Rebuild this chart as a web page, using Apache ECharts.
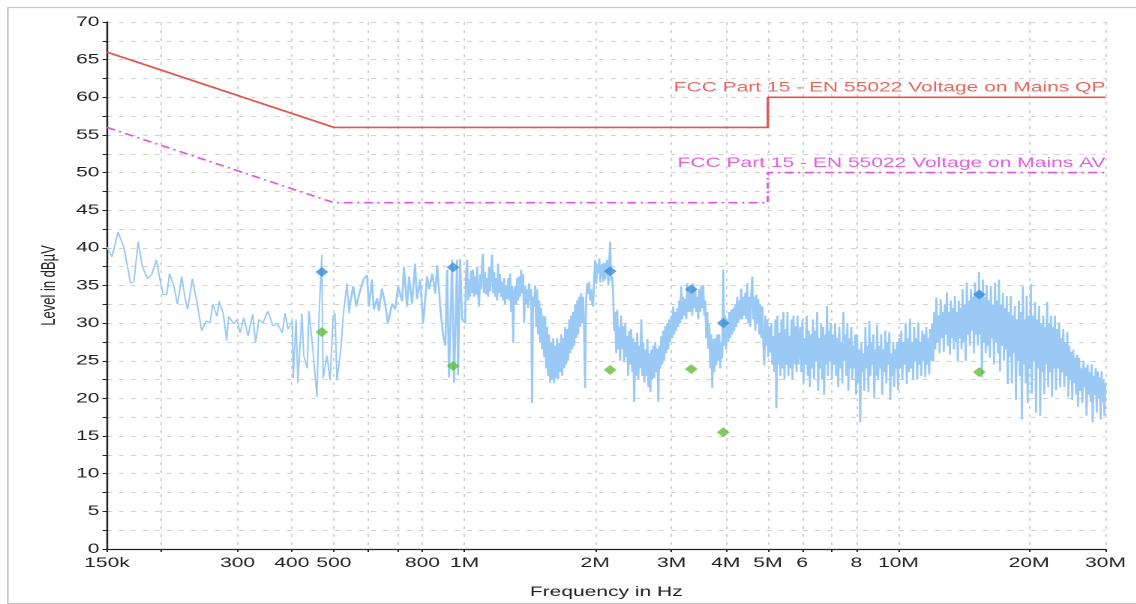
<!DOCTYPE html>
<html>
<head>
<meta charset="utf-8">
<script src="https://cdn.jsdelivr.net/npm/echarts@6/dist/echarts.min.js"></script>
<style>
html,body{margin:0;padding:0;background:#fff;overflow:hidden;width:1136px;height:604px;}
#wrap{width:1136px;height:604px;overflow:hidden;position:relative;background:#fff;}
#chart{width:757.33px;height:604px;transform:scaleX(1.5);transform-origin:0 0;}
</style>
</head>
<body>
<div id="wrap"><div id="chart"></div></div>
<script>
// Frequencies in MHz, levels in dBµV
const tickValues = [0.15,0.2,0.3,0.4,0.5,0.6,0.7,0.8,1,2,3,4,5,6,7,8,10,20,30];
const labelValues = [0.15,0.3,0.4,0.5,0.8,1,2,3,4,5,6,8,10,20,30];
const labelTexts = ['150k','300','400','500','800','1M','2M','3M','4M','5M','6','8','10M','20M','30M'];

const qpLimit = [[0.15,66],[0.5,56],[5,56],[5,60],[30,60]];
const avLimit = [[0.15,56],[0.5,46],[5,46],[5,50],[30,50]];
const qpLimitName = 'FCC Part 15 - EN 55022 Voltage on Mains QP';
const avLimitName = 'FCC Part 15 - EN 55022 Voltage on Mains AV';

const qpMarkers = [[0.469,36.8],[0.941,37.4],[2.166,36.9],[3.33,34.5],[3.946,30.0],[15.36,33.8]];
const avMarkers = [[0.469,28.8],[0.941,24.3],[2.166,23.8],[3.33,23.9],[3.946,15.5],[15.36,23.5]];

// 150 kHz .. 545 kHz
const spectrumLow = [
[0.150,40.1],[0.154,38.8],[0.159,42.1],[0.164,40.1],[0.170,35.3],[0.173,35.5],[0.177,40.8],[0.181,37.5],[0.186,35.9],[0.190,36.4],
[0.195,38.4],[0.198,36.2],[0.202,33.8],[0.206,33.8],[0.209,36.6],[0.214,34.9],[0.218,32.5],[0.223,36.2],[0.227,33.3],[0.230,31.8],
[0.236,35.9],[0.242,32.6],[0.248,29.0],[0.254,30.3],[0.259,30.0],[0.263,32.5],[0.269,30.9],[0.272,32.9],[0.278,31.3],[0.283,27.7],
[0.286,30.9],[0.294,29.9],[0.299,30.5],[0.304,28.7],[0.310,30.7],[0.317,28.3],[0.325,31.2],[0.330,27.4],[0.336,30.5],[0.343,30.0],
[0.352,31.6],[0.362,29.6],[0.370,30.0],[0.380,28.7],[0.386,31.3],[0.392,29.2],[0.401,30.3],[0.403,22.7],[0.409,30.5],[0.413,22.1],
[0.422,31.3],[0.426,25.7],[0.434,24.0],[0.438,31.6],[0.447,26.6],[0.457,20.2],[0.462,30.9],[0.469,39.1],[0.472,22.7],[0.482,25.7],
[0.490,22.4],[0.498,30.9],[0.503,31.3],[0.508,22.4],[0.519,26.6],[0.525,30.9],[0.536,35.3],[0.542,31.3],[0.545,32.6]
];

// 545 kHz .. 30 MHz
const spectrumHigh = [
[0.545,32.6],[0.554,34.9],[0.563,32.2],[0.572,33.9],[0.585,35.8],[0.596,36.4],[0.602,32.2],[0.612,35.8],[0.618,31.8],[0.629,33.3],
[0.635,31.6],[0.645,34.6],[0.656,32.6],[0.666,30.0],[0.681,32.6],[0.692,31.8],[0.703,34.9],[0.718,32.9],[0.725,37.5],[0.737,32.2],
[0.745,36.2],[0.757,32.6],[0.769,37.9],[0.777,33.2],[0.790,35.8],[0.803,30.0],[0.820,36.2],[0.829,34.5],[0.843,36.6],[0.856,33.9],
[0.865,37.7],[0.879,32.2],[0.893,28.3],[0.903,27.0],[0.912,37.1],[0.921,22.8],[0.936,38.4],[0.946,22.1],[0.961,38.4],[0.966,23.1],
[0.977,38.5],[0.987,30.5],[1.003,30.0],[1.008,36.5],[1.014,38.4],[1.019,33.0],[1.025,35.8],[1.030,33.5],[1.036,37.0],[1.041,34.0],
[1.046,37.1],[1.052,33.5],[1.058,36.2],[1.063,33.8],[1.069,37.5],[1.074,34.0],[1.080,32.2],[1.086,36.5],[1.092,34.5],[1.097,37.9],
[1.103,39.2],[1.108,34.0],[1.114,36.8],[1.121,33.8],[1.127,36.0],[1.133,33.5],[1.139,37.5],[1.145,34.2],[1.151,36.5],[1.157,39.1],
[1.163,34.0],[1.170,36.8],[1.176,33.5],[1.182,36.0],[1.189,33.0],[1.195,37.9],[1.201,34.0],[1.207,36.5],[1.214,33.5],[1.220,35.5],
[1.227,33.0],[1.234,36.0],[1.240,32.5],[1.247,35.0],[1.254,33.2],[1.261,36.0],[1.268,33.0],[1.274,36.6],[1.281,31.5],[1.288,35.0],
[1.295,27.4],[1.301,34.0],[1.308,34.9],[1.315,32.5],[1.322,36.0],[1.329,33.0],[1.336,36.2],[1.343,33.5],[1.350,37.1],[1.357,34.0],
[1.364,36.5],[1.372,30.0],[1.380,35.0],[1.387,32.5],[1.394,34.5],[1.402,32.0],[1.409,35.3],[1.416,33.0],[1.424,34.5],[1.431,19.4],
[1.439,33.5],[1.447,32.2],[1.455,35.0],[1.463,29.5],[1.470,34.5],[1.478,28.5],[1.486,33.0],[1.494,27.5],[1.502,32.0],[1.510,26.5],
[1.518,31.0],[1.526,25.5],[1.534,30.9],[1.542,24.0],[1.550,29.5],[1.558,23.0],[1.566,28.5],[1.575,22.1],[1.583,27.5],[1.592,22.5],
[1.600,28.0],[1.609,22.0],[1.617,27.0],[1.626,22.7],[1.635,28.0],[1.643,22.5],[1.652,27.4],[1.661,23.5],[1.670,28.5],[1.679,23.0],
[1.688,28.0],[1.697,24.0],[1.706,29.5],[1.715,24.5],[1.724,29.2],[1.733,25.0],[1.743,30.5],[1.752,26.0],[1.761,31.0],[1.771,26.5],
[1.780,31.5],[1.790,27.0],[1.799,32.5],[1.809,28.0],[1.818,33.0],[1.828,28.5],[1.837,33.5],[1.847,29.5],[1.857,34.0],[1.866,30.0],
[1.876,33.5],[1.886,29.0],[1.896,21.4],[1.906,33.0],[1.917,35.3],[1.927,33.9],[1.937,35.5],[1.948,33.0],[1.958,34.5],[1.969,32.5],
[1.979,32.2],[1.989,36.0],[2.000,38.4],[2.012,35.2],[2.022,37.8],[2.033,36.6],[2.045,38.6],[2.055,35.4],[2.066,37.2],[2.076,37.9],
[2.088,35.5],[2.100,38.0],[2.110,35.8],[2.121,37.6],[2.132,38.4],[2.145,35.0],[2.155,38.2],[2.166,40.8],[2.178,35.6],[2.189,36.2],
[2.200,33.9],[2.212,29.0],[2.224,31.5],[2.236,26.0],[2.248,31.8],[2.260,26.5],[2.272,29.5],[2.284,25.0],[2.296,31.0],[2.308,26.5],
[2.321,29.6],[2.333,24.8],[2.346,30.0],[2.358,25.5],[2.370,28.3],[2.383,23.0],[2.396,29.0],[2.408,24.5],[2.421,29.2],[2.435,23.5],
[2.447,28.0],[2.460,19.5],[2.473,27.5],[2.487,23.0],[2.500,28.7],[2.514,22.5],[2.527,27.0],[2.541,24.0],[2.555,30.5],[2.569,23.0],
[2.583,27.5],[2.597,22.1],[2.611,26.5],[2.625,23.0],[2.639,27.9],[2.653,21.5],[2.667,26.0],[2.681,20.8],[2.695,26.5],[2.709,22.5],
[2.723,27.0],[2.738,22.7],[2.752,27.5],[2.767,23.5],[2.781,26.6],[2.796,19.5],[2.811,27.0],[2.826,24.0],[2.841,28.3],[2.856,24.5],
[2.871,29.0],[2.886,25.0],[2.901,29.6],[2.916,26.0],[2.932,30.0],[2.948,26.5],[2.963,30.5],[2.979,27.5],[2.995,31.0],[3.011,28.0],
[3.026,32.2],[3.042,28.5],[3.058,31.5],[3.075,29.0],[3.091,32.0],[3.108,29.5],[3.124,33.0],[3.141,30.0],[3.158,34.9],[3.174,30.5],
[3.191,33.5],[3.208,31.0],[3.225,33.2],[3.243,30.5],[3.260,35.3],[3.277,31.5],[3.295,34.0],[3.313,31.5],[3.330,33.9],[3.348,31.0],
[3.366,35.3],[3.384,32.0],[3.402,34.5],[3.420,31.5],[3.438,33.5],[3.457,30.5],[3.475,34.5],[3.494,31.5],[3.512,35.0],[3.531,32.0],
[3.549,35.1],[3.568,31.0],[3.587,33.0],[3.606,28.0],[3.626,31.5],[3.645,26.6],[3.664,30.0],[3.684,24.0],[3.703,28.5],[3.723,21.4],
[3.743,27.9],[3.763,23.5],[3.783,28.0],[3.803,24.4],[3.823,28.5],[3.843,25.0],[3.864,28.5],[3.884,24.0],[3.905,27.5],[3.926,25.3],
[3.947,37.1],[3.968,27.0],[3.989,31.0],[4.010,26.5],[4.032,30.5],[4.053,27.5],[4.075,31.5],[4.097,28.0],[4.118,31.8],[4.140,28.5],
[4.162,32.0],[4.184,29.0],[4.206,32.5],[4.228,29.5],[4.251,33.5],[4.273,30.0],[4.296,33.0],[4.319,30.5],[4.342,34.6],[4.365,30.5],
[4.388,33.5],[4.412,31.0],[4.435,34.0],[4.459,30.5],[4.483,35.3],[4.507,30.0],[4.531,33.5],[4.555,29.5],[4.579,34.0],[4.604,36.2],
[4.628,30.5],[4.653,33.5],[4.678,29.0],[4.703,33.8],[4.728,30.0],[4.753,33.2],[4.779,28.5],[4.804,32.5],[4.830,28.0],[4.856,32.2],
[4.882,27.0],[4.908,24.4],[4.934,31.0],[4.960,27.0],[4.986,30.5],[5.013,25.5],[5.040,29.5],[5.067,26.1],[5.094,30.0],[5.121,24.5],
[5.148,28.3],[5.176,23.5],[5.204,30.5],[5.232,18.7],[5.260,31.0],[5.288,24.5],[5.316,28.7],[5.345,23.0],[5.373,30.5],[5.402,24.0],
[5.431,31.5],[5.460,22.5],[5.489,29.2],[5.519,24.5],[5.548,31.5],[5.578,23.0],[5.608,28.3],[5.638,24.0],[5.668,30.5],[5.698,22.5],
[5.729,31.0],[5.759,24.5],[5.790,29.6],[5.821,23.5],[5.852,31.0],[5.883,24.5],[5.914,28.3],
[5.935,29.5],[5.970,23.5],[6.005,30.5],[6.040,22.0],[6.075,28.0],[6.110,24.5],[6.145,31.0],[6.180,23.0],[6.215,29.0],[6.250,21.5],
[6.285,28.5],[6.320,24.0],[6.355,30.5],[6.390,22.5],[6.425,29.0],[6.460,25.0],[6.495,31.5],[6.530,21.0],[6.565,28.0],[6.600,24.0],
[6.635,30.0],[6.670,22.5],[6.705,29.5],[6.740,20.5],[6.775,28.5],[6.810,24.5],[6.845,32.3],[6.880,23.0],[6.915,29.0],[6.950,25.0],
[6.985,30.0],[7.025,22.5],[7.065,28.5],[7.105,24.5],[7.145,30.0],[7.185,23.0],[7.225,28.0],[7.265,21.5],[7.305,29.5],[7.345,24.0],
[7.385,27.5],[7.425,22.0],[7.465,31.5],[7.505,25.0],[7.545,28.5],[7.585,23.0],[7.625,30.0],[7.665,21.0],[7.705,28.0],[7.745,24.0],
[7.785,29.5],[7.825,22.5],[7.865,27.0],[7.905,24.0],[7.945,28.5],[7.985,20.5],[8.030,28.4],[8.075,22.0],[8.120,26.5],[8.165,16.8],
[8.210,27.5],[8.255,23.5],[8.300,26.0],[8.345,21.0],[8.390,29.5],[8.435,24.0],[8.480,27.0],[8.525,20.8],[8.570,30.3],[8.615,23.0],
[8.660,27.5],[8.705,24.5],[8.750,28.5],[8.795,20.0],[8.840,26.5],[8.885,23.0],[8.930,29.8],[8.975,22.5],[9.025,27.0],[9.075,24.0],
[9.125,28.5],[9.175,20.5],[9.225,26.5],[9.275,23.5],[9.325,29.0],[9.375,22.0],[9.425,27.5],[9.475,24.5],[9.525,28.8],[9.575,19.8],
[9.625,26.0],[9.675,23.0],[9.725,27.5],[9.775,21.5],[9.825,26.5],[9.875,24.0],[9.925,27.5],[9.975,21.1],[10.03,28.0],[10.09,24.0],
[10.15,29.0],[10.21,22.5],[10.27,27.5],[10.33,24.5],[10.39,30.0],[10.45,21.9],[10.51,28.0],[10.57,23.5],[10.63,30.6],[10.69,24.0],
[10.75,27.5],[10.81,22.5],[10.87,29.5],[10.93,25.0],[10.99,28.0],[11.05,22.5],[11.11,30.1],[11.17,24.5],[11.23,27.5],[11.29,23.0],
[11.35,29.0],[11.41,25.0],[11.47,28.5],[11.53,22.8],[11.59,29.5],[11.65,24.5],[11.71,28.0],[11.77,23.2],[11.83,29.2],[11.89,25.0],
[11.95,30.0],[12.02,24.9],[12.09,31.5],[12.16,26.5],[12.23,33.4],[12.30,27.5],[12.37,31.0],[12.44,26.0],[12.51,33.2],[12.58,28.0],
[12.65,31.5],[12.72,26.2],[12.79,32.5],[12.86,28.5],[12.93,34.1],[13.00,27.0],[13.07,31.5],[13.14,25.8],[13.21,33.0],[13.28,28.0],
[13.35,32.0],[13.42,26.5],[13.49,33.6],[13.56,27.5],[13.63,31.5],[13.70,24.9],[13.77,33.0],[13.84,28.0],[13.91,32.0],[13.98,26.5],
[14.05,34.5],[14.13,27.5],[14.21,32.5],[14.29,25.0],[14.37,35.4],[14.45,28.5],[14.53,33.0],[14.61,27.0],[14.69,34.5],[14.77,29.0],
[14.85,33.5],[14.93,26.0],[15.01,35.4],[15.09,28.5],[15.17,34.0],[15.25,27.0],[15.33,36.8],[15.41,28.5],[15.49,34.0],[15.57,22.8],
[15.65,35.8],[15.73,27.5],[15.81,33.5],[15.89,26.0],[15.97,35.0],[16.06,27.0],[16.15,33.0],[16.24,25.4],[16.33,34.9],[16.42,28.0],
[16.51,32.5],[16.60,24.5],[16.69,35.4],[16.78,27.5],[16.87,33.0],[16.96,26.0],[17.05,35.8],[17.14,23.6],[17.23,32.5],[17.32,27.0],
[17.41,34.0],[17.50,25.0],[17.59,32.0],[17.68,26.5],[17.77,33.6],[17.86,21.9],[17.95,31.5],[18.05,25.5],[18.15,33.6],[18.25,22.0],
[18.35,31.0],[18.45,26.0],[18.55,32.3],[18.65,19.8],[18.75,30.5],[18.85,25.0],[18.95,33.0],[19.05,23.0],[19.15,31.5],[19.25,17.2],
[19.35,34.9],[19.45,24.5],[19.55,30.5],[19.65,22.0],[19.75,33.6],[19.85,19.4],[19.95,31.0],[20.06,24.0],[20.18,35.2],[20.29,20.6],
[20.41,31.0],[20.52,25.0],[20.64,32.8],[20.75,18.1],[20.87,30.5],[20.98,24.0],[21.10,32.3],[21.21,17.7],[21.33,30.0],[21.44,23.5],
[21.56,31.0],[21.67,20.6],[21.79,29.5],[21.90,24.5],[22.02,32.8],[22.13,21.5],[22.25,30.0],[22.36,23.5],[22.48,31.0],[22.59,20.2],
[22.71,29.5],[22.82,24.0],[22.94,31.0],[23.07,21.1],[23.20,29.2],[23.33,24.0],[23.46,30.1],[23.59,21.5],[23.72,28.0],[23.85,23.5],
[23.98,29.2],[24.11,21.5],[24.24,27.5],[24.37,23.0],[24.50,28.8],[24.63,20.2],[24.76,27.0],[24.89,22.5],[25.02,26.2],[25.15,19.8],
[25.28,26.5],[25.41,22.0],[25.54,25.4],[25.67,20.5],[25.80,25.8],[25.93,18.9],[26.08,25.4],[26.23,21.0],[26.38,24.0],[26.53,19.4],
[26.68,25.0],[26.83,21.5],[26.98,24.1],[27.13,17.7],[27.28,24.5],[27.43,20.5],[27.58,23.5],[27.73,19.5],[27.88,24.5],[28.03,16.8],
[28.18,23.0],[28.33,20.5],[28.48,24.0],[28.63,18.1],[28.78,23.6],[28.93,20.0],[29.08,22.8],[29.23,17.2],[29.38,23.6],[29.53,19.5],
[29.68,22.5],[29.83,17.7],[30.00,22.0]
];

const fontFamily = '"Liberation Sans", Arial, Helvetica, sans-serif';
function labelFor(v) {
  for (let i = 0; i < labelValues.length; i++) {
    if (Math.abs(Math.log10(v / labelValues[i])) < 0.002) return labelTexts[i];
  }
  return '';
}

const chart = echarts.init(document.getElementById('chart'), null, {renderer: 'canvas', devicePixelRatio: 2});
const gridDash = {color: '#d0d0d0', width: 1, type: [3, 5]};
const specColor = '#99c9f4';

chart.setOption({
  animation: false,
  backgroundColor: '#ffffff',
  graphic: [{
    type: 'rect', left: 2.7, top: 5, silent: true, z: -10,
    shape: {width: 790, height: 596},
    style: {fill: 'none', stroke: '#c9c9c9', lineWidth: 1.3}
  }],
  grid: {left: 71.33, right: 20, top: 22, bottom: 48},
  xAxis: {
    type: 'log', logBase: 10, min: 0.15, max: 30,
    name: 'Frequency in Hz', nameLocation: 'middle', nameGap: 36,
    nameTextStyle: {fontSize: 14, color: '#222', fontFamily: fontFamily},
    axisLine: {show: true, onZero: false, lineStyle: {color: '#222', width: 1.2}},
    axisTick: {show: true, customValues: tickValues, length: 3, lineStyle: {color: '#222', width: 1}},
    axisLabel: {customValues: labelValues, formatter: labelFor, fontSize: 14, color: '#222', margin: 7, fontFamily: fontFamily},
    splitLine: {show: true, lineStyle: gridDash},
    minorTick: {show: false}, minorSplitLine: {show: false}
  },
  yAxis: {
    type: 'value', min: 0, max: 70, interval: 5,
    name: 'Level in dBµV', nameLocation: 'middle', nameGap: 32, nameRotate: 90,
    nameTextStyle: {fontSize: 13, color: '#222', fontFamily: fontFamily},
    axisLine: {show: true, lineStyle: {color: '#222', width: 1.2}},
    axisTick: {show: true, length: 3, lineStyle: {color: '#222'}},
    minorTick: {show: true, splitNumber: 2, length: 3, lineStyle: {color: '#222'}},
    axisLabel: {fontSize: 14, color: '#222', margin: 5, fontFamily: fontFamily},
    splitLine: {show: true, lineStyle: gridDash},
    minorSplitLine: {show: true, lineStyle: gridDash}
  },
  series: [
    {
      name: 'Spectrum', type: 'line', data: spectrumLow, showSymbol: false, symbol: 'none',
      lineStyle: {color: specColor, width: 1}, z: 2, silent: true
    },
    {
      name: 'Spectrum ', type: 'line', data: spectrumHigh, showSymbol: false, symbol: 'none',
      lineStyle: {color: specColor, width: 1.35}, z: 2, silent: true
    },
    {
      name: 'QP limit', type: 'line', data: qpLimit, showSymbol: false, symbol: 'none',
      lineStyle: {color: '#e0554d', width: 1.6}, z: 3, silent: true,
      markPoint: {
        silent: true, symbol: 'circle', symbolSize: 1, itemStyle: {color: 'rgba(0,0,0,0)'},
        data: [{coord: [30, 60], value: 0}],
        label: {show: true, position: 'top', align: 'right', distance: 2, formatter: qpLimitName,
                color: '#e5685f', fontSize: 14, fontFamily: fontFamily}
      }
    },
    {
      name: 'AV limit', type: 'line', data: avLimit, showSymbol: false, symbol: 'none',
      lineStyle: {color: '#e055e0', width: 1.6, type: [6, 3, 1.5, 3]}, z: 3, silent: true,
      markPoint: {
        silent: true, symbol: 'circle', symbolSize: 1, itemStyle: {color: 'rgba(0,0,0,0)'},
        data: [{coord: [30, 50], value: 0}],
        label: {show: true, position: 'top', align: 'right', distance: 2, formatter: avLimitName,
                color: '#e060e0', fontSize: 14, fontFamily: fontFamily}
      }
    },
    {
      name: 'QP', type: 'scatter', data: qpMarkers, symbol: 'diamond', symbolSize: [8.5, 10],
      itemStyle: {color: '#3a8ed8'}, z: 5, silent: true
    },
    {
      name: 'AV', type: 'scatter', data: avMarkers, symbol: 'diamond', symbolSize: [8.5, 10],
      itemStyle: {color: '#62be3a'}, z: 5, silent: true
    }
  ]
});
</script>
</body>
</html>
